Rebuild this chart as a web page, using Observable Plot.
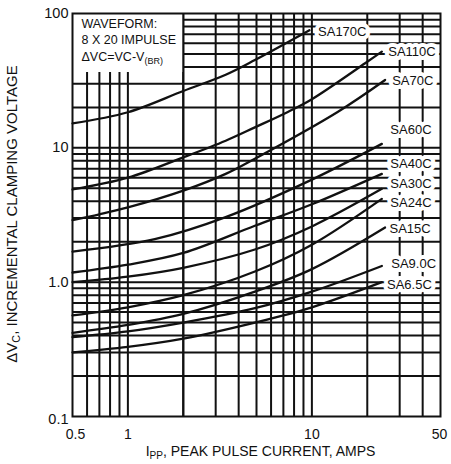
<!DOCTYPE html>
<html><head><meta charset="utf-8">
<script src="https://cdn.jsdelivr.net/npm/d3@7"></script>
<script src="https://cdn.jsdelivr.net/npm/@observablehq/plot@0.6"></script>
<style>
html,body{margin:0;padding:0;background:#fff;}
#chart svg{display:block;}
</style>
</head><body><div id="chart"></div>
<script>
// ---- grid and tick values ----
const xGrid = [0.6,0.7,0.8,0.9,1,2,3,4,5,6,7,8,9,10,20,30,40];
const yGrid = [0.2,0.3,0.4,0.5,0.6,0.7,0.8,0.9,1,2,3,4,5,6,7,8,9,10,20,30,40,50,60,70,80,90];
const xTicks = [0.5,1,10,50];
const xTickLabels = ["0.5","1","10","50"];
const yTicks = [0.1,1,10,100];
const yTickLabels = ["0.1","1.0","10","100"];

// ---- series (Ipp in A, delta Vc in V) ----
const seriesNames = ["SA170C","SA110C","SA70C","SA60C","SA40C","SA30C","SA24C","SA15C","SA9.0C","SA6.5C"];
const sa170cX = [0.5,1,2,3.4,4.9,9.7];
const sa170cY = [15.2,18.4,26.5,35,45,75];
const sa110cX = [0.5,1,2,3.4,4.9,7.4,10,20,24];
const sa110cY = [4.9,6.0,8.5,11.3,14.2,18.5,23,43.7,52];
const sa70cX = [0.5,0.7,1,2,3.4,4.9,13.8,25];
const sa70cY = [2.9,3.2,3.6,4.8,6.4,8.3,18.5,32];
const sa60cX = [0.5,1.4,3.4,10,24];
const sa60cY = [1.69,2.09,3.05,5.8,10.7];
const sa40cX = [0.5,1,2,4.9,10,24];
const sa40cY = [1.18,1.35,1.65,2.63,3.8,6.4];
const sa30cX = [0.5,1,2,4.9,10,24];
const sa30cY = [1.0,1.1,1.28,1.75,2.6,4.95];
const sa24cX = [0.5,1,2,4.9,10,24];
const sa24cY = [0.565,0.65,0.8,1.2,1.9,4.17];
const sa15cX = [0.5,1,2,4.9,10,25];
const sa15cY = [0.42,0.48,0.58,0.85,1.25,2.55];
const sa9cX = [0.5,1,2,4.9,10,24];
const sa9cY = [0.39,0.43,0.5,0.64,0.85,1.32];
const sa65cX = [0.5,1,2,4.9,10,24];
const sa65cY = [0.30,0.33,0.38,0.5,0.65,1.0];

// label anchor positions (data coords)
const labelX = [10.8,26.0,27.3,26.7,26.7,26.7,26.7,26.4,27.0,25.6];
const labelY = [73.5,51.5,31.7,13.5,7.64,5.43,3.92,2.51,1.38,0.96];

const noteLines = ["WAVEFORM:","8 X 20 IMPULSE","\u0394VC=VC-V_{(BR)}"];
const xTitle = "I_{PP}, PEAK PULSE CURRENT, AMPS";
const yTitle = "\u0394V_{C}, INCREMENTAL CLAMPING VOLTAGE";

// ---- build tables ----
const allX = [sa170cX,sa110cX,sa70cX,sa60cX,sa40cX,sa30cX,sa24cX,sa15cX,sa9cX,sa65cX];
const allY = [sa170cY,sa110cY,sa70cY,sa60cY,sa40cY,sa30cY,sa24cY,sa15cY,sa9cY,sa65cY];
const curves = seriesNames.flatMap((s,i)=>allX[i].map((x,j)=>({series:s,x,y:allY[i][j]})));
const labels = seriesNames.map((s,i)=>({text:s,x:labelX[i],y:labelY[i]}));
const xt = xTicks.map((v,i)=>({v,t:xTickLabels[i]}));
const yt = yTicks.map((v,i)=>({v,t:yTickLabels[i]}));

const FONT = "Liberation Sans, Arial, Helvetica, sans-serif";
const INK = "#111";

const chart = Plot.plot({
  width: 451, height: 464,
  marginLeft: 72, marginRight: 11, marginTop: 13, marginBottom: 48,
  style: {background:"#fff", fontFamily: FONT},
  x: {type:"log", domain:[0.5,50], axis:null},
  y: {type:"log", domain:[0.1,100], axis:null},
  marks: [
    Plot.ruleX(xGrid, {stroke: INK, strokeWidth: 2}),
    Plot.ruleY(yGrid, {stroke: INK, strokeWidth: 2}),
    // white note box in the upper-left corner
    Plot.rect([{x1:0.5,x2:2,y1:37,y2:100}], {x1:"x1",x2:"x2",y1:"y1",y2:"y2", fill:"#fff", inset:-1}),
    Plot.ruleX([2], {stroke: INK, strokeWidth: 2}),
    Plot.line(curves, {x:"x", y:"y", z:"series", stroke: INK, strokeWidth: 2.3, curve:"catmull-rom"}),
    Plot.text(labels, {x:"x", y:"y", text:"text", textAnchor:"start", fontSize: 13, fill: INK,
      stroke:"#fff", strokeWidth: 8, paintOrder:"stroke"}),
    Plot.text([noteLines.join("\n")], {frameAnchor:"top-left", dx: 9, dy: 3, text: d=>d, lineHeight: 1.3,
      fontSize: 12.5, fill: INK, textAnchor:"start"}),
    Plot.frame({stroke: INK, strokeWidth: 2}),
    Plot.text(yt, {x: 0.5, y:"v", text:"t", textAnchor:"end", dx:-4, fontSize: 14.5, fill: INK}),
    Plot.text(xt, {x:"v", y: 0.1, text:"t", dy: 18, fontSize: 14, fill: INK}),
    Plot.text([xTitle], {frameAnchor:"bottom", text: d=>d, dy: 39, dx: 4, textAnchor:"middle", fontSize: 14, fill: INK}),
    Plot.text([yTitle], {frameAnchor:"left", text: d=>d, dx: -60, dy: -1, rotate: -90, textAnchor:"middle", fontSize: 15, fill: INK})
  ]
});

// nudge a couple of tick labels like the original
d3.select(chart).selectAll("text").each(function(){
  const s = this.textContent;
  if (s === "0.1") this.setAttribute("transform", (this.getAttribute("transform")||"") + " translate(0,3)");
  if (s === "0.5") this.setAttribute("transform", (this.getAttribute("transform")||"") + " translate(3,0)");
  if (s === "50") this.setAttribute("transform", (this.getAttribute("transform")||"") + " translate(-1,0)");
});

// subscripts: replace _{...} with smaller lowered tspans
d3.select(chart).selectAll("text, tspan").each(function(){
  if (this.querySelector && this.querySelector("tspan")) return;
  const s = this.textContent;
  if (!s.includes("_{")) return;
  const el = d3.select(this);
  this.textContent = "";
  const parts = s.split(/(_\{[^}]*\})/).filter(p=>p);
  let down = false;
  for (const p of parts) {
    if (p.startsWith("_{")) {
      el.append("tspan").attr("font-size","0.72em").attr("dy", down ? null : 3).text(p.slice(2,-1));
      down = true;
    } else {
      const t = el.append("tspan").text(p);
      if (down) { t.attr("dy", -3); down = false; }
    }
  }
});

document.getElementById("chart").append(chart);
</script>
</body></html>
